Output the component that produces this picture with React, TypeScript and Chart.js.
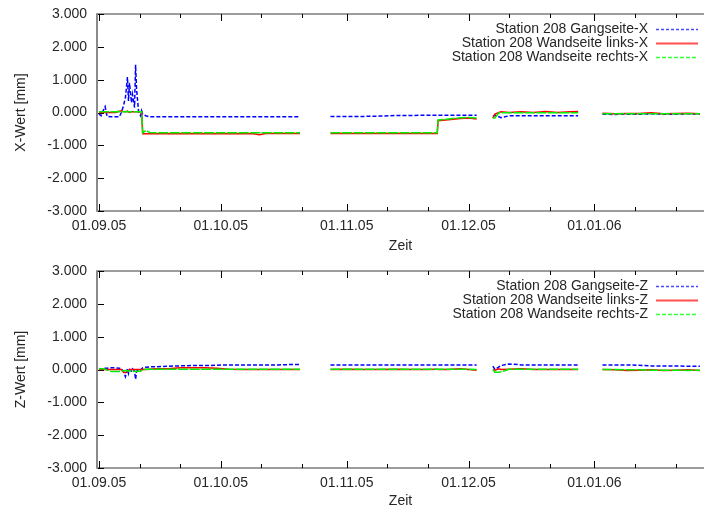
import React, { useEffect, useRef } from "react";
import { Chart, registerables } from "chart.js";

Chart.register(...registerables);

// ---- data (day offsets from 01.09.2005; null = gap in the record) ----
const days = [
  0, 0.5, 1, 1.5, 2, 3, 4, 5, 5.5, 6,
  6.5, 7, 7.25, 7.5, 8, 8.25, 8.75, 9, 9.25, 9.75,
  10.25, 10.5, 10.75, 11.5, 12.5, 14, 17, 20, 23, 26,
  29, 32, 35, 38, 39.5, 41, 44, 47, 49.5, 53,
  57, 61, 65, 69, 73, 77, 81, 83.3, 83.5, 86,
  89, 91, 93, 95, 97, 97.5, 98.5, 99, 101, 104,
  107, 110, 113, 116, 118, 121, 124, 127, 130, 133,
  136, 139, 142, 145, 148,
];

const gangX = [
  -0.05, -0.1, 0.05, 0.18, -0.12, -0.13, -0.13, -0.13, 0.0, 0.2,
  0.45, 1.08, 0.35, 0.9, 0.3, 0.55, 0.15, 1.45, 0.7, 0.02,
  -0.1, 0.05, -0.05, -0.1, -0.13, -0.13, -0.13, -0.13, -0.13, -0.13,
  -0.13, -0.13, -0.13, -0.13, -0.13, -0.13, -0.13, -0.13, -0.13, null,
  -0.12, -0.12, -0.12, -0.11, -0.09, -0.09, -0.08, -0.08, -0.08, -0.08,
  -0.08, -0.08, -0.08, null, -0.12, -0.08, -0.13, -0.16, -0.1, -0.1,
  -0.1, -0.1, -0.1, -0.1, -0.1, null, -0.05, -0.06, -0.05, -0.05,
  -0.04, -0.05, -0.05, -0.04, -0.05,
];

const linksX = [
  0.0, 0.0, 0.0, 0.0, 0.0, 0.0, 0.0, 0.04, 0.05, 0.03,
  0.02, 0.04, 0.02, 0.0, 0.03, 0.02, 0.02, 0.02, 0.02, 0.03,
  0.02, 0.02, -0.65, -0.65, -0.65, -0.65, -0.65, -0.65, -0.65, -0.65,
  -0.65, -0.65, -0.65, -0.65, -0.68, -0.64, -0.64, -0.64, -0.64, null,
  -0.64, -0.64, -0.64, -0.64, -0.64, -0.64, -0.64, -0.64, -0.25, -0.22,
  -0.18, -0.17, -0.2, null, -0.17, -0.05, 0.0, 0.02, 0.0, 0.02,
  0.0, 0.03, 0.0, 0.02, 0.03, null, -0.02, -0.04, -0.03, -0.03,
  -0.01, -0.04, -0.03, -0.02, -0.04,
];

const rechtsX = [
  0.02, 0.02, 0.02, 0.02, 0.02, 0.02, 0.02, 0.03, 0.02, 0.02,
  0.03, 0.02, 0.02, 0.02, 0.02, 0.02, 0.02, 0.02, 0.02, 0.02,
  0.02, 0.02, -0.62, -0.55, -0.61, -0.62, -0.62, -0.62, -0.62, -0.62,
  -0.62, -0.62, -0.62, -0.62, -0.62, -0.62, -0.62, -0.62, -0.62, null,
  -0.62, -0.62, -0.62, -0.62, -0.62, -0.62, -0.62, -0.62, -0.23, -0.2,
  -0.16, -0.15, -0.17, null, -0.17, -0.17, -0.01, -0.01, -0.01, -0.01,
  -0.01, -0.01, -0.01, -0.01, -0.01, null, -0.04, -0.04, -0.04, -0.04,
  -0.04, -0.04, -0.04, -0.04, -0.04,
];

const gangZ = [
  0.03, 0.0, 0.04, 0.04, 0.04, 0.05, 0.05, 0.04, 0.02, -0.05,
  -0.22, 0.02, -0.12, 0.0, -0.05, 0.02, -0.05, -0.3, -0.05, 0.0,
  -0.02, 0.02, 0.05, 0.07, 0.08, 0.08, 0.1, 0.11, 0.12, 0.12,
  0.13, 0.14, 0.14, 0.14, 0.14, 0.14, 0.14, 0.15, 0.15, null,
  0.14, 0.14, 0.14, 0.14, 0.14, 0.14, 0.14, 0.14, 0.14, 0.14,
  0.14, 0.14, 0.14, null, 0.1, 0.0, 0.08, 0.12, 0.17, 0.14,
  0.14, 0.14, 0.14, 0.14, 0.14, null, 0.14, 0.14, 0.14, 0.13,
  0.11, 0.11, 0.11, 0.1, 0.1,
];

const linksZ = [
  0.0, 0.0, 0.0, 0.0, 0.0, 0.0, 0.0, 0.0, 0.0, -0.08,
  -0.1, -0.06, -0.03, 0.0, 0.0, 0.0, 0.0, 0.0, 0.0, 0.0,
  0.0, 0.0, 0.0, 0.0, 0.01, 0.02, 0.02, 0.05, 0.05, 0.05,
  0.04, 0.01, 0.0, 0.0, 0.0, 0.0, 0.0, 0.0, 0.0, null,
  0.0, 0.01, 0.0, 0.0, 0.01, 0.0, 0.0, 0.01, 0.0, 0.0,
  0.02, 0.0, -0.02, null, 0.0, -0.02, 0.02, 0.0, 0.01, 0.02,
  0.0, 0.0, 0.0, 0.0, 0.0, null, 0.0, -0.01, -0.03, -0.02,
  -0.01, -0.03, -0.02, -0.01, -0.03,
];

const rechtsZ = [
  0.02, 0.02, 0.02, 0.01, -0.02, -0.06, -0.06, -0.06, -0.05, -0.04,
  -0.03, -0.04, -0.05, -0.04, -0.05, -0.05, -0.06, -0.06, -0.06, -0.05,
  -0.05, -0.03, 0.0, 0.01, 0.01, 0.01, 0.01, 0.01, 0.01, 0.01,
  0.01, 0.01, 0.01, 0.01, 0.01, 0.01, 0.01, 0.01, 0.01, null,
  0.01, 0.01, 0.01, 0.01, 0.01, 0.01, 0.01, 0.01, 0.01, 0.01,
  0.01, 0.01, 0.0, null, 0.0, -0.08, -0.08, -0.07, 0.01, 0.01,
  0.01, 0.01, 0.01, 0.01, 0.01, null, 0.0, 0.0, -0.01, -0.01,
  -0.02, -0.02, -0.02, -0.03, -0.02,
];

const monthDays = [0, 30, 61, 91, 122];
const monthLabels = ["01.09.05", "01.10.05", "01.11.05", "01.12.05", "01.01.06"];
const minorDays = [10, 20, 40, 50, 71, 81, 101, 111, 132, 142];
const yTickValues = [-3, -2, -1, 0, 1, 2, 3];

const namesX = [
  "Station 208 Gangseite-X",
  "Station 208 Wandseite links-X",
  "Station 208 Wandseite rechts-X",
];
const namesZ = [
  "Station 208 Gangseite-Z",
  "Station 208 Wandseite links-Z",
  "Station 208 Wandseite rechts-Z",
];

const colors = ["#0000ff", "#ff0000", "#00ee00"];
const legendColors = ["#4a4aff", "#ff5050", "#33ff33"];
const dashes: number[][] = [[4, 2], [], [10, 1.5]];
const legendDashes: number[][] = [[3, 2], [], [4, 2]];

const FONT = "'Liberation Sans', Arial, sans-serif";
const TEXT = "#262626";

const framePlugin = {
  id: "gpFrame",
  beforeDatasetsDraw(chart: any) {
    const { ctx, chartArea: a, scales } = chart;
    const xs = scales.x;
    const ys = scales.y;
    ctx.save();
    ctx.strokeStyle = "#7c7c7c";
    ctx.lineWidth = 1.5;
    ctx.beginPath();
    ctx.moveTo(a.left, a.top);
    ctx.lineTo(a.right, a.top);
    ctx.moveTo(a.left, a.bottom);
    ctx.lineTo(a.right, a.bottom);
    ctx.stroke();
    ctx.strokeStyle = "#8a8a8a";
    ctx.lineWidth = 2;
    ctx.beginPath();
    ctx.moveTo(a.left, a.top - 0.75);
    ctx.lineTo(a.left, a.bottom + 0.75);
    ctx.stroke();

    ctx.strokeStyle = "#000";
    ctx.lineWidth = 1;
    ctx.beginPath();
    const tickX = (d: number, len: number) => {
      const px = Math.round(xs.getPixelForValue(d)) + 0.5;
      ctx.moveTo(px, a.bottom);
      ctx.lineTo(px, a.bottom - len);
      ctx.moveTo(px, a.top);
      ctx.lineTo(px, a.top + len);
    };
    monthDays.forEach((d) => tickX(d, 7));
    minorDays.forEach((d) => tickX(d, 4));
    yTickValues.forEach((v) => {
      const py = Math.round(ys.getPixelForValue(v)) + 0.5;
      ctx.moveTo(a.left + 1, py);
      ctx.lineTo(a.left + 7, py);
    });
    ctx.stroke();
    ctx.restore();
  },
  afterDraw(chart: any, _args: any, opts: any) {
    const { ctx, chartArea: a } = chart;
    const names: string[] = opts.names || [];
    ctx.save();
    ctx.font = "14px " + FONT;
    ctx.textAlign = "right";
    ctx.textBaseline = "middle";
    names.forEach((name, i) => {
      const y = a.top + 15 + i * 14;
      ctx.fillStyle = TEXT;
      ctx.fillText(name, a.right - 56, y + 0.5);
      ctx.strokeStyle = legendColors[i];
      ctx.lineWidth = i === 1 ? 2 : 1.5;
      ctx.setLineDash(legendDashes[i]);
      ctx.beginPath();
      ctx.moveTo(a.right - 48, y + 0.5);
      ctx.lineTo(a.right - 6, y + 0.5);
      ctx.stroke();
    });
    ctx.restore();
  },
};

type PanelProps = {
  height: number;
  top: number;
  bottom: number;
  yTitle: string;
  series: (number | null)[][];
  names: string[];
};

function Panel({ height, top, bottom, yTitle, series, names }: PanelProps) {
  const ref = useRef<HTMLCanvasElement>(null);
  useEffect(() => {
    if (!ref.current) return;
    const datasets = series.map((vals, i) => ({
      label: names[i],
      data: days.map((d, j) => ({ x: d, y: vals[j] })),
      borderColor: colors[i],
      backgroundColor: colors[i],
      borderWidth: 1.5,
      borderDash: dashes[i],
      pointRadius: 0,
      tension: 0,
      fill: false,
      spanGaps: false,
      order: 3 - i,
    }));
    const chart = new Chart(ref.current, {
      type: "line",
      data: { datasets },
      plugins: [framePlugin],
      options: {
        responsive: false,
        animation: false,
        events: [],
        layout: { padding: { top, left: 0, right: 0, bottom: 0 } },
        plugins: {
          legend: { display: false },
          tooltip: { enabled: false },
          gpFrame: { names },
        } as any,
        scales: {
          x: {
            type: "linear",
            min: -0.5,
            max: 149,
            bounds: "data",
            grid: { display: false, drawTicks: false },
            border: { display: false },
            ticks: {
              autoSkip: false,
              maxRotation: 0,
              padding: 7,
              color: TEXT,
              font: { family: FONT, size: 14 },
              callback: (v: any) => {
                const k = monthDays.indexOf(Number(v));
                return k >= 0 ? monthLabels[k] : "";
              },
            },
            afterBuildTicks: (s: any) => {
              s.ticks = monthDays.map((v) => ({ value: v }));
            },
            afterFit: (s: any) => {
              s.height = height - bottom;
              s.paddingLeft = 0;
              s.paddingRight = 0;
            },
            title: {
              display: true,
              text: "Zeit",
              color: TEXT,
              font: { family: FONT, size: 14 },
              padding: { top: 0, bottom: 1 },
            },
          },
          y: {
            type: "linear",
            min: -3,
            max: 3,
            grid: { display: false, drawTicks: false },
            border: { display: false },
            ticks: {
              stepSize: 1,
              padding: 10,
              color: TEXT,
              font: { family: FONT, size: 14 },
              callback: (v: any) => Number(v).toFixed(3),
            },
            afterFit: (s: any) => {
              s.width = 97;
              s.paddingTop = 0;
              s.paddingBottom = 0;
            },
            title: {
              display: true,
              text: yTitle,
              color: TEXT,
              font: { family: FONT, size: 14 },
              padding: { top: 12.5, bottom: 0 },
            },
          },
        },
      } as any,
    });
    return () => chart.destroy();
  }, []);
  return (
    <canvas
      ref={ref}
      width={704}
      height={height}
      style={{ display: "block", width: 704, height }}
    />
  );
}

export default function App() {
  return (
    <div
      style={{
        position: "fixed",
        left: 0,
        top: 0,
        width: 704,
        height: 511,
        background: "#fff",
      }}
    >
      <Panel
        height={256}
        top={14}
        bottom={211}
        yTitle="X-Wert [mm]"
        series={[gangX, linksX, rechtsX]}
        names={namesX}
      />
      <Panel
        height={255}
        top={15}
        bottom={212}
        yTitle="Z-Wert [mm]"
        series={[gangZ, linksZ, rechtsZ]}
        names={namesZ}
      />
    </div>
  );
}
